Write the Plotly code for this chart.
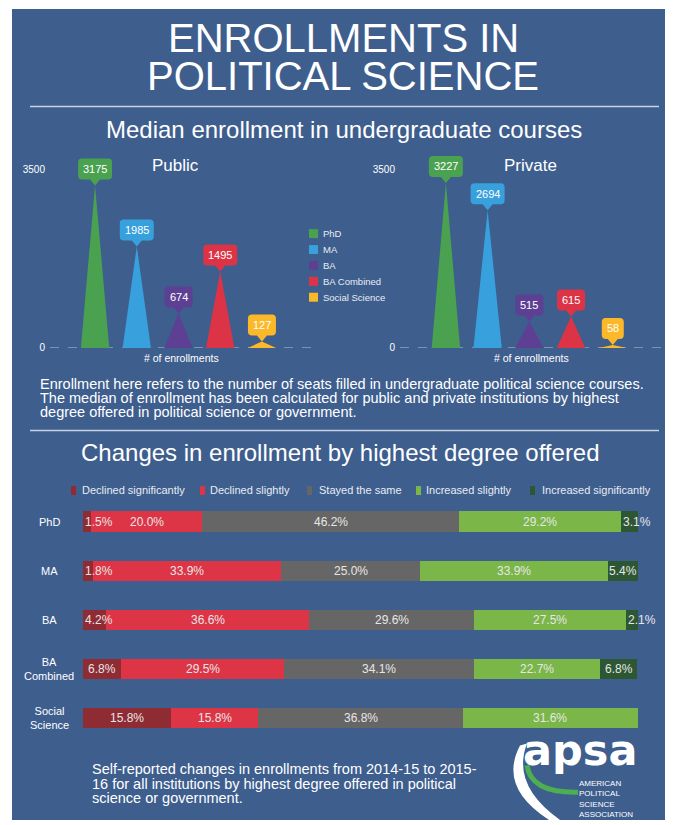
import plotly.graph_objects as go

PAGE_W, PAGE_H = 673, 825
OFF = 8  # browser body margin
W, H = PAGE_W - OFF, PAGE_H - OFF
def X(px): return (px - OFF) / W
def Y(py): return 1 - (py - OFF) / H

# ---------------- data ----------------
degrees = ["PhD", "MA", "BA", "BA Combined", "Social Science"]
public_median = [3175, 1985, 674, 1495, 127]
private_median = [3227, 2694, 515, 615, 58]
degree_colors = ["#4aa150", "#38a0dc", "#5d3f94", "#dc3446", "#fbb829"]

bar_rows = ["PhD", "MA", "BA", "BA Combined", "Social Science"]
row_labels = ["PhD", "MA", "BA", "BA<br>Combined", "Social<br>Science"]
change_names = ["Declined significantly", "Declined slightly", "Stayed the same",
                "Increased slightly", "Increased significantly"]
declined_significantly = [1.5, 1.8, 4.2, 6.8, 15.8]
declined_slightly = [20.0, 33.9, 36.6, 29.5, 15.8]
stayed_same = [46.2, 25.0, 29.6, 34.1, 36.8]
increased_slightly = [29.2, 33.9, 27.5, 22.7, 31.6]
increased_significantly = [3.1, 5.4, 2.1, 6.8, 0]
change_colors = ["#8e2b33", "#dd3546", "#666666", "#7ab648", "#2d5733"]

FONT = "Liberation Sans, Arial, sans-serif"
BG = "#3e5e8e"
TXT = "#ffffff"

fig = go.Figure()
shapes = []
ann = []

def note(px, py, text, size, xanchor="center", yanchor="middle", color=TXT, family=FONT, **kw):
    ann.append(dict(x=X(px), y=Y(py), xref="paper", yref="paper", text=text, showarrow=False,
                    xanchor=xanchor, yanchor=yanchor, font=dict(size=size, color=color, family=family), **kw))

# panel background
shapes.append(dict(type="rect", xref="paper", yref="paper", x0=X(12), x1=X(666), y0=0, y1=Y(9),
                   fillcolor=BG, line=dict(width=0), layer="below"))

# ---------------- top triangle charts ----------------
HW = 0.34
for ax_idx, values in ((1, public_median), (2, private_median)):
    xa = "x" if ax_idx == 1 else "x2"
    ya = "y" if ax_idx == 1 else "y2"
    shapes.append(dict(type="line", xref=f"{xa} domain", yref=ya, x0=0, x1=1, y0=0, y1=0,
                       line=dict(color="rgba(200,210,225,0.75)", width=1, dash="dash"), layer="below"))
    for i, (name, v, c) in enumerate(zip(degrees, values, degree_colors)):
        fig.add_trace(go.Scatter(x=[i - HW, i, i + HW, i - HW], y=[0, v, 0, 0], mode="lines",
                                 fill="toself", fillcolor=c, line=dict(width=0, color=c),
                                 name=name, showlegend=False, hoverinfo="skip",
                                 xaxis=xa, yaxis=ya))
        w = len(str(v)) * 6 + 10
        hw = w / 2; t = 6; h = 21; r = 4; pw = 5
        y0, y1 = t, t + h
        path = (f"M 0,0 L {-pw},{y0} L {-hw + r},{y0} Q {-hw},{y0} {-hw},{y0 + r} "
                f"L {-hw},{y1 - r} Q {-hw},{y1} {-hw + r},{y1} L {hw - r},{y1} "
                f"Q {hw},{y1} {hw},{y1 - r} L {hw},{y0 + r} Q {hw},{y0} {hw - r},{y0} L {pw},{y0} Z")
        shapes.append(dict(type="path", xref=xa, yref=ya, xsizemode="pixel", ysizemode="pixel",
                           xanchor=i, yanchor=v, path=path, fillcolor=c, line=dict(width=0)))
        ann.append(dict(x=i, y=v, xref=xa, yref=ya, text=str(v), showarrow=False, yshift=t + h / 2,
                        xanchor="center", yanchor="middle",
                        font=dict(size=11, color=TXT, family=FONT)))

# chart titles
note(175, 166, "Public", 17)
note(530, 166, "Private", 17)
for cx in (181, 531):
    note(cx, 360, "# of enrollments", 10.5)

# degree legend
for k, (name, c) in enumerate(zip(degrees, degree_colors)):
    cy = 235 + k * 16
    shapes.append(dict(type="rect", xref="paper", yref="paper", x0=X(309), x1=X(318),
                       y0=Y(cy + 4.5), y1=Y(cy - 4.5), fillcolor=c, line=dict(width=0)))
    note(321, cy, name, 9.5, xanchor="left", color="#e8ecf2")

# ---------------- stacked bar chart ----------------
series = [declined_significantly, declined_slightly, stayed_same, increased_slightly, increased_significantly]
for name, vals, c in zip(change_names, series, change_colors):
    fig.add_trace(go.Bar(y=bar_rows, x=vals, orientation="h", name=name,
                         marker=dict(color=c, line=dict(width=0)),
                         showlegend=False, hoverinfo="skip", xaxis="x3", yaxis="y3"))

for r, row in enumerate(bar_rows):
    start = 0
    for vals in series:
        v = vals[r]
        if v > 0:
            if v < 5:
                ann.append(dict(x=start, y=row, xref="x3", yref="y3", text=f"{v:.1f}%", showarrow=False,
                                xanchor="left", yanchor="middle", xshift=0,
                                font=dict(size=12, color="#e6e6e6", family=FONT)))
            else:
                ann.append(dict(x=start + v / 2, y=row, xref="x3", yref="y3", text=f"{v:.1f}%",
                                showarrow=False, xanchor="center", yanchor="middle",
                                font=dict(size=12, color="#e6e6e6", family=FONT)))
        start += v
    ann.append(dict(x=X(49), y=row, xref="paper", yref="y3", text=row_labels[r], showarrow=False,
                    xanchor="center", yanchor="middle", align="center",
                    font=dict(size=11, color=TXT, family=FONT)))

# change legend
leg_sq = [71, 200, 307, 416, 530]
leg_tx = [80, 208, 317, 424, 540]
for name, c, sx, tx in zip(change_names, change_colors, leg_sq, leg_tx):
    shapes.append(dict(type="rect", xref="paper", yref="paper", x0=X(sx), x1=X(sx + 5),
                       y0=Y(498), y1=Y(489), fillcolor=c, line=dict(width=0)))
    note(tx, 493, name, 11, xanchor="left", color="#e8ecf2")

# ---------------- titles & text ----------------
note(343, 38, "ENROLLMENTS IN", 40)
note(343, 76, "POLITICAL SCIENCE", 40)
note(344, 130, "Median enrollment in undergraduate courses", 24)
note(340, 455, "Changes in enrollment by highest degree offered", 24)
for yy in (107, 433):
    shapes.append(dict(type="line", xref="paper", yref="paper", x0=X(30), x1=X(659), y0=Y(yy), y1=Y(yy),
                       line=dict(color="#c8d2e2", width=1.5)))

para = ["Enrollment here refers to the number of seats filled in undergraduate political science courses.",
        "The median of enrollment has been calculated for public and private institutions by highest",
        "degree offered in political science or government."]
for k, line in enumerate(para):
    note(38, 386 + k * 14, line, 14.5, xanchor="left")

foot = ["Self-reported changes in enrollments from 2014-15 to 2015-",
        "16 for all institutions by highest degree offered in political",
        "science or government."]
for k, line in enumerate(foot):
    note(90, 774 + k * 14.5, line, 14.5, xanchor="left")

# ---------------- logo ----------------
def P(x, y):
    return f"{X(x)},{Y(y)}"
shapes.append(dict(type="path", xref="paper", yref="paper",
                   path=f"M {P(520,750)} Q {P(498,792)} {P(549,825)} L {P(560,825)} Q {P(511,790)} {P(527,748)} Z",
                   fillcolor="#ffffff", line=dict(width=0)))
shapes.append(dict(type="path", xref="paper", yref="paper",
                   path=f"M {P(527,770)} Q {P(531,798)} {P(578,797)}",
                   line=dict(color="#4caf50", width=5)))
note(580, 782, "<b>apsa</b>", 43, yanchor="bottom", family="DejaVu Sans, sans-serif")
note(577, 803.5, "AMERICAN<br>POLITICAL<br>SCIENCE<br>ASSOCIATION", 8, xanchor="left", align="left")

yr_top = 3900
ydom = [Y(350), Y(350 - 180 * yr_top / 3500)]
axis_common = dict(showgrid=False, zeroline=False, showline=False)
fig.update_layout(
    width=W, height=H, margin=dict(l=0, r=0, t=0, b=0),
    paper_bgcolor="#ffffff", plot_bgcolor="rgba(0,0,0,0)",
    showlegend=False, barmode="stack", bargap=0.59,
    font=dict(family=FONT, color=TXT),
    xaxis=dict(domain=[X(50), X(312)], range=[-1.08, 5.2], visible=False, **axis_common),
    yaxis=dict(domain=ydom, range=[0, yr_top], tickvals=[0, 3500], ticktext=["0", "3500"],
               tickfont=dict(size=10, color=TXT), ticklabelstandoff=4, **axis_common),
    xaxis2=dict(domain=[X(400), X(662)], range=[-1.1, 5.18], visible=False, **axis_common),
    yaxis2=dict(domain=ydom, range=[0, yr_top], tickvals=[0, 3500], ticktext=["0", "3500"],
                tickfont=dict(size=10, color=TXT), ticklabelstandoff=4, anchor="x2", **axis_common),
    xaxis3=dict(domain=[X(83), X(638)], range=[0, 100], visible=False, anchor="y3", **axis_common),
    yaxis3=dict(domain=[Y(747), Y(500)], autorange="reversed", showticklabels=False, anchor="x3",
                categoryorder="array", categoryarray=bar_rows, **axis_common),
    shapes=shapes, annotations=ann,
)
fig.write_html("out.html")
